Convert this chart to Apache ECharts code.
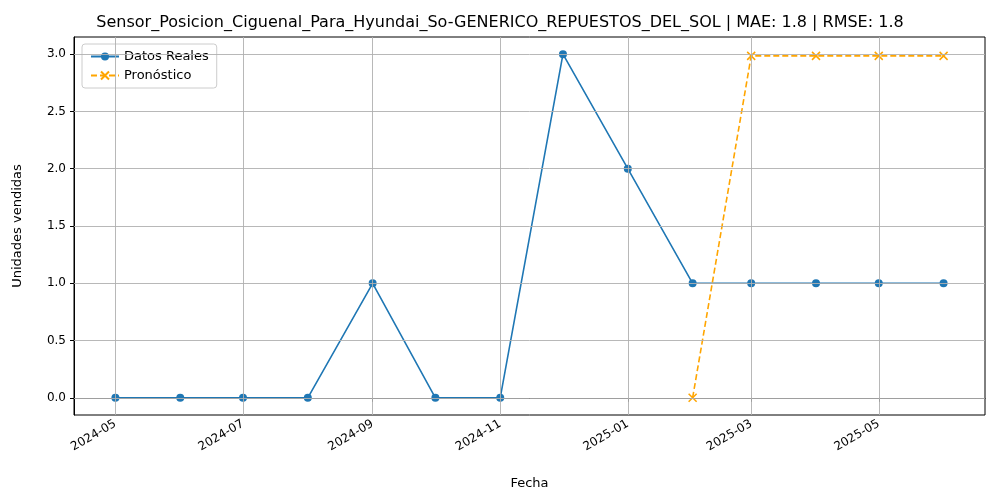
<!DOCTYPE html>
<html lang="en">
<head>
    <meta charset="UTF-8">
    <title>Sensor Chart</title>
    <script src="https://cdn.jsdelivr.net/npm/echarts@6/dist/echarts.min.js"></script>
</head>
<body style="margin:0">
    <div id="chart" style="width:1000px;height:500px"></div>
    <script>
        var realDates = ['2024-05-01', '2024-06-01', '2024-07-01', '2024-08-01', '2024-09-01', '2024-10-01', '2024-11-01',
            '2024-12-01', '2025-01-01', '2025-02-01', '2025-03-01', '2025-04-01', '2025-05-01', '2025-06-01'];
        var realValues = [0, 0, 0, 0, 1, 0, 0, 3, 2, 1, 1, 1, 1, 1];
        var forecastDates = ['2025-02-01', '2025-03-01', '2025-04-01', '2025-05-01', '2025-06-01'];
        var forecastValues = [0, 2.985, 2.985, 2.985, 2.985];
        var tickDates = ['2024-05-01', '2024-07-01', '2024-09-01', '2024-11-01', '2025-01-01', '2025-03-01', '2025-05-01'];
        var yTicks = [0, 0.5, 1, 1.5, 2, 2.5, 3];

        function ts(s) { return new Date(s + 'T00:00:00Z').getTime(); }
        var start = ts(realDates[0]), end = ts(realDates[realDates.length - 1]);
        var pad = (end - start) * 0.05;
        var tickTs = tickDates.map(ts);

        var chart = echarts.init(document.getElementById('chart'));
        var font = 'DejaVu Sans';
        chart.setOption({
            animation: false,
            textStyle: { fontFamily: font },
            title: {
                text: 'Sensor_Posicion_Ciguenal_Para_Hyundai_So-GENERICO_REPUESTOS_DEL_SOL | MAE: 1.8 | RMSE: 1.8',
                left: 'center', top: 10,
                textStyle: { fontSize: 16, fontWeight: 'normal', color: '#000', fontFamily: font }
            },
            legend: {
                left: 82, top: 44, orient: 'vertical', itemGap: 6,
                backgroundColor: '#fff', borderColor: '#ccc', borderWidth: 1, borderRadius: 3, padding: [6, 8],
                textStyle: { fontSize: 13, color: '#000' },
                itemWidth: 28, itemHeight: 10,
                data: ['Datos Reales', 'Pronóstico']
            },
            grid: { left: 74, right: 15, top: 37, bottom: 85, show: true, borderColor: '#000', borderWidth: 1 },
            xAxis: {
                type: 'value', min: start - pad, max: end + pad,
                name: 'Fecha', nameLocation: 'middle', nameGap: 62,
                nameTextStyle: { fontSize: 13, color: '#000' },
                axisLine: { lineStyle: { color: '#000' } },
                axisTick: { customValues: tickTs, length: 4, lineStyle: { color: '#000' } },
                axisLabel: {
                    customValues: tickTs, rotate: 30, fontSize: 12, color: '#000',
                    formatter: function (v) {
                        var d = new Date(v);
                        var m = d.getUTCMonth() + 1;
                        return d.getUTCFullYear() + '-' + (m < 10 ? '0' + m : m);
                    }
                },
                splitLine: { show: false }
            },
            yAxis: {
                type: 'value', min: -0.15, max: 3.15,
                name: 'Unidades vendidas', nameLocation: 'middle', nameGap: 50,
                nameTextStyle: { fontSize: 13, color: '#000' },
                axisLine: { show: true, lineStyle: { color: '#000' } },
                axisTick: { show: true, length: 4, lineStyle: { color: '#000' }, customValues: yTicks },
                axisLabel: { fontSize: 12, color: '#000', customValues: yTicks,
                    formatter: function (v) { return v.toFixed(1); } },
                splitLine: { show: false }
            },
            series: [{
                name: 'Datos Reales', type: 'line',
                data: realDates.map(function (d, i) { return [ts(d), realValues[i]]; }),
                symbol: 'circle', symbolSize: 8,
                itemStyle: { color: '#1f77b4' }, lineStyle: { color: '#1f77b4', width: 1.6 },
                markLine: {
                    silent: true, symbol: 'none', label: { show: false },
                    lineStyle: { color: '#b0b0b0', width: 0.9, type: 'solid' },
                    data: tickTs.map(function (t) { return { xAxis: t }; })
                        .concat(yTicks.map(function (v) { return { yAxis: v }; }))
                },
                z: 3
            }, {
                name: 'Pronóstico', type: 'line',
                data: forecastDates.map(function (d, i) { return [ts(d), forecastValues[i]]; }),
                symbol: 'path://M-1,-1L1,1M1,-1L-1,1', symbolSize: 8,
                itemStyle: { color: '#ffa500', borderColor: '#ffa500', borderWidth: 1.5 },
                lineStyle: { color: '#ffa500', width: 1.6, type: [6, 3] },
                z: 4
            }]
        });
    </script>
</body>
</html>
